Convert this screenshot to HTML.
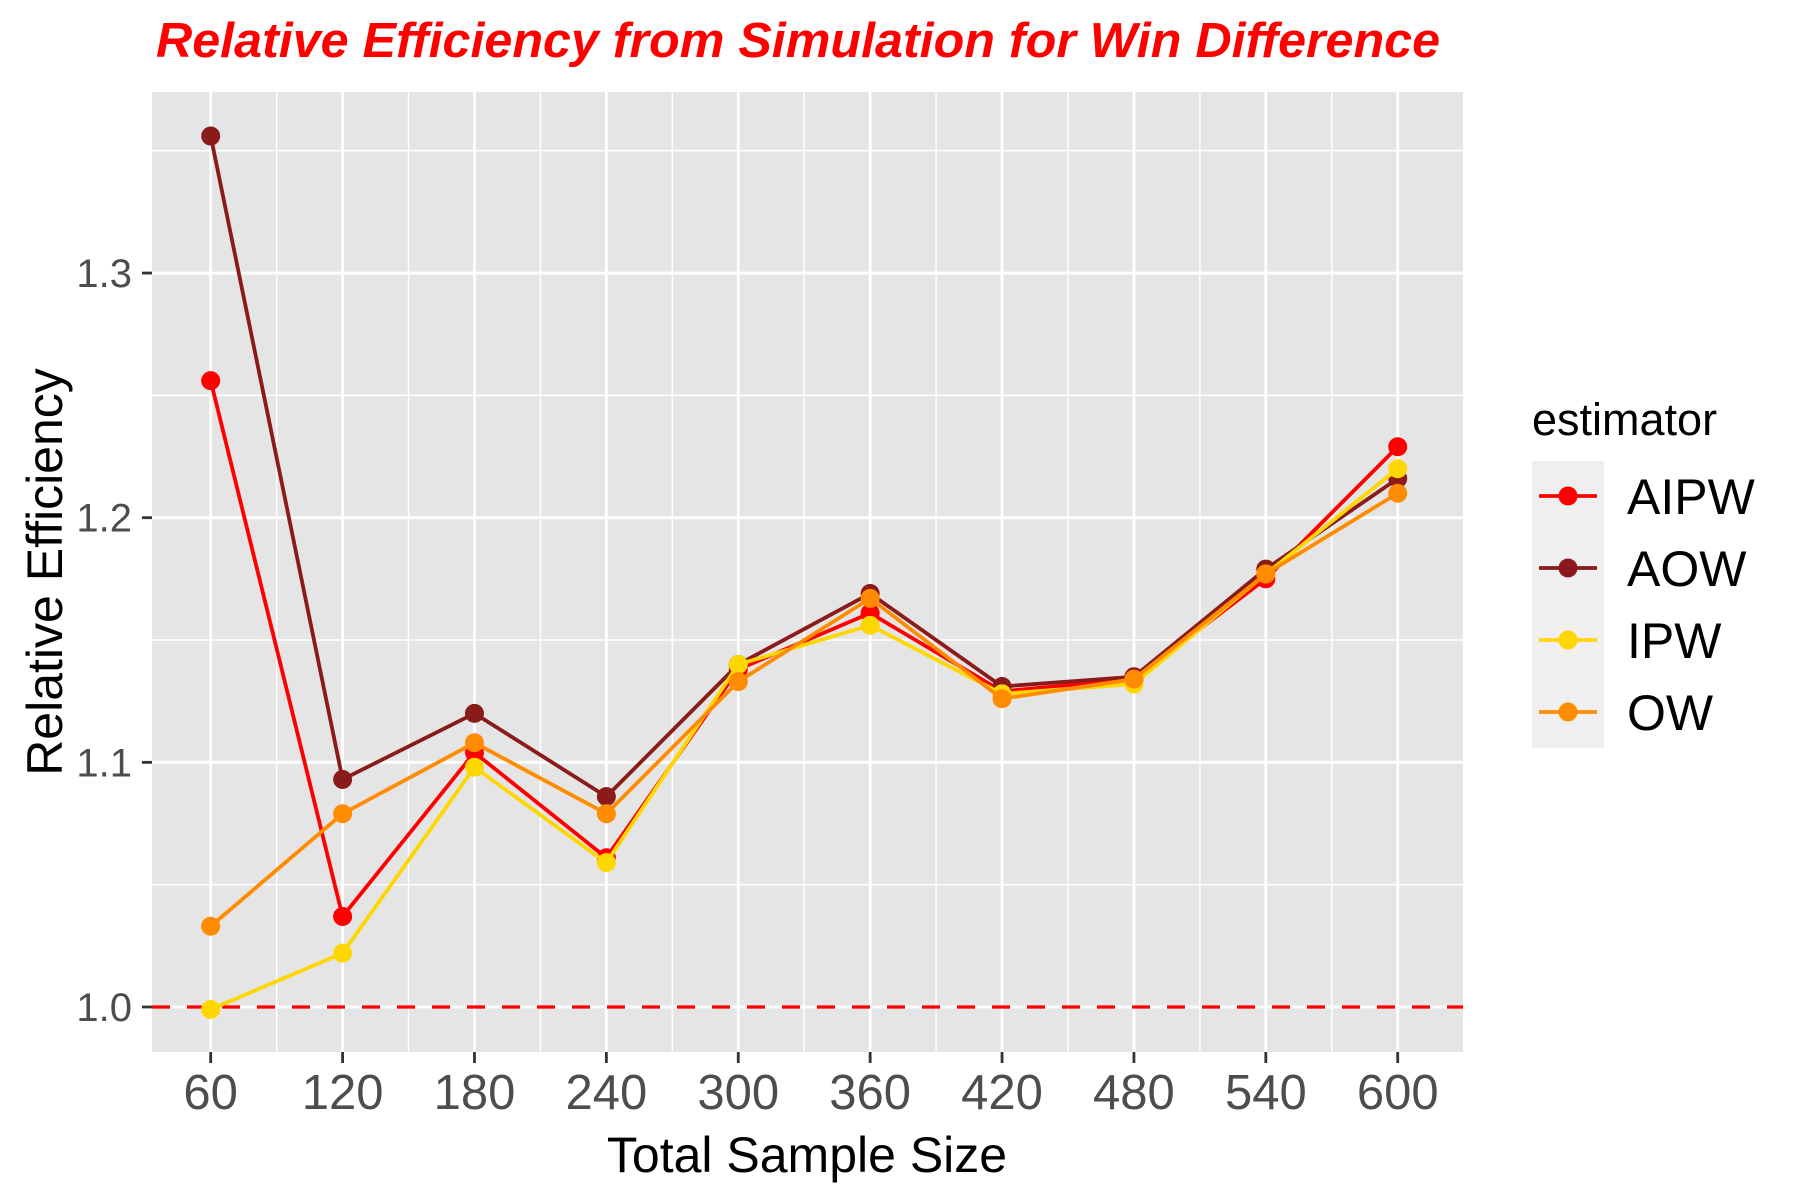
<!DOCTYPE html>
<html><head><meta charset="utf-8"><style>body{margin:0;background:#fff}svg{display:block;font-family:"Liberation Sans",sans-serif}</style></head>
<body>
<svg id="chart" width="1800" height="1200" xmlns="http://www.w3.org/2000/svg">
<text x="156" y="57" font-size="49" font-weight="bold" font-style="italic" fill="#ff0000" textLength="1284" lengthAdjust="spacingAndGlyphs">Relative Efficiency from Simulation for Win Difference</text>
<rect x="152" y="92" width="1311" height="960" fill="#e5e5e5"/>
<g id="grid"></g><g id="series"></g><g id="axes"></g>
<text x="807" y="1172" font-size="50" text-anchor="middle" fill="#000">Total Sample Size</text>
<text transform="translate(62,572) rotate(-90)" font-size="50" text-anchor="middle" fill="#000">Relative Efficiency</text>
<g>
<text x="1532" y="435" font-size="45" fill="#000">estimator</text>
<rect x="1532" y="461" width="72" height="287" fill="#efefef"/>
<g id="legend-entries"></g>
</g>
</svg>
<script>
const categories = [60,120,180,240,300,360,420,480,540,600];
const seriesNames = ["AIPW","AOW","IPW","OW"];
const aipw = [1.256,1.037,1.104,1.061,1.138,1.161,1.129,1.134,1.175,1.229];
const aow = [1.356,1.093,1.120,1.086,1.140,1.169,1.131,1.135,1.179,1.216];
const ipw = [0.999,1.022,1.098,1.059,1.140,1.156,1.128,1.132,1.177,1.220];
const ow = [1.033,1.079,1.108,1.079,1.133,1.167,1.126,1.134,1.177,1.210];
const yTicks = [1.0,1.1,1.2,1.3];
const yTickLabels = ["1.0","1.1","1.2","1.3"];
const refValue = 1.0;

const NS="http://www.w3.org/2000/svg";
const L=152,R=1463,T=92,B=1052;
const xMin=33.3,xMax=629.7,yMin=0.9816,yMax=1.374;
const xs=v=>L+(v-xMin)/(xMax-xMin)*(R-L);
const ys=v=>B-(v-yMin)/(yMax-yMin)*(B-T);
function mk(tag,attrs,parent){const e=document.createElementNS(NS,tag);for(const k in attrs)e.setAttribute(k,attrs[k]);parent.appendChild(e);return e;}
const grid=document.getElementById('grid'),axes=document.getElementById('axes'),ser=document.getElementById('series');
for(let v=0.95;v<=1.4;v+=0.1){const y=ys(v);if(y<T||y>B)continue;const e=mk('line',{x1:L,x2:R,y1:y,y2:y,stroke:'#fff','stroke-width':1.4},grid);}
for(let i=0;i<=categories.length;i++){const v=categories[0]-30+i*60;const x=xs(v);if(x<L||x>R)continue;const e=mk('line',{x1:x,x2:x,y1:T,y2:B,stroke:'#fff','stroke-width':1.4},grid);}
yTicks.forEach((v,i)=>{const y=ys(v);
const g=mk('line',{x1:L,x2:R,y1:y,y2:y,stroke:'#fff','stroke-width':2.8},grid);
const t=mk('line',{x1:142,x2:L,y1:y,y2:y,stroke:'#333','stroke-width':2.8},axes);
const tx=mk('text',{x:132,y:y+14,'font-size':40,'text-anchor':'end',fill:'#4d4d4d'},axes);tx.textContent=yTickLabels[i];});
categories.forEach(c=>{const x=xs(c);
const g=mk('line',{x1:x,x2:x,y1:T,y2:B,stroke:'#fff','stroke-width':2.8},grid);
const t=mk('line',{x1:x,x2:x,y1:B,y2:B+11,stroke:'#333','stroke-width':2.8},axes);
const tx=mk('text',{x:x,y:1109,'font-size':49,'text-anchor':'middle',fill:'#4d4d4d'},axes);tx.textContent=c;});
const ref=mk('line',{x1:L,x2:R,y1:ys(refValue),y2:ys(refValue),stroke:'#ff0000','stroke-width':3.2,'stroke-dasharray':'18 17'},grid);


const data=[aipw,aow,ipw,ow];
const colors=['#ff0000','#8b1a1a','#ffd700','#ff8c00'];
data.forEach((arr,si)=>{const g=mk('g',{},ser);
const pts=arr.map((v,i)=>xs(categories[i])+','+ys(v)).join(' ');
const pl=mk('polyline',{points:pts,fill:'none',stroke:colors[si],'stroke-width':3.8},g);
arr.forEach((v,i)=>{const c=mk('circle',{cx:xs(categories[i]),cy:ys(v),r:9.5,fill:colors[si]},g);});});
const le=document.getElementById('legend-entries');
seriesNames.forEach((n,i)=>{const y=496+i*72;const g=mk('g',{},le);
mk('line',{x1:1539,x2:1597,y1:y,y2:y,stroke:colors[i],'stroke-width':3.8},g);
mk('circle',{cx:1568,cy:y,r:9.5,fill:colors[i]},g);
const t=mk('text',{x:1627,y:y+18,'font-size':50,fill:'#000'},g);t.textContent=n;});
</script>
</body></html>
